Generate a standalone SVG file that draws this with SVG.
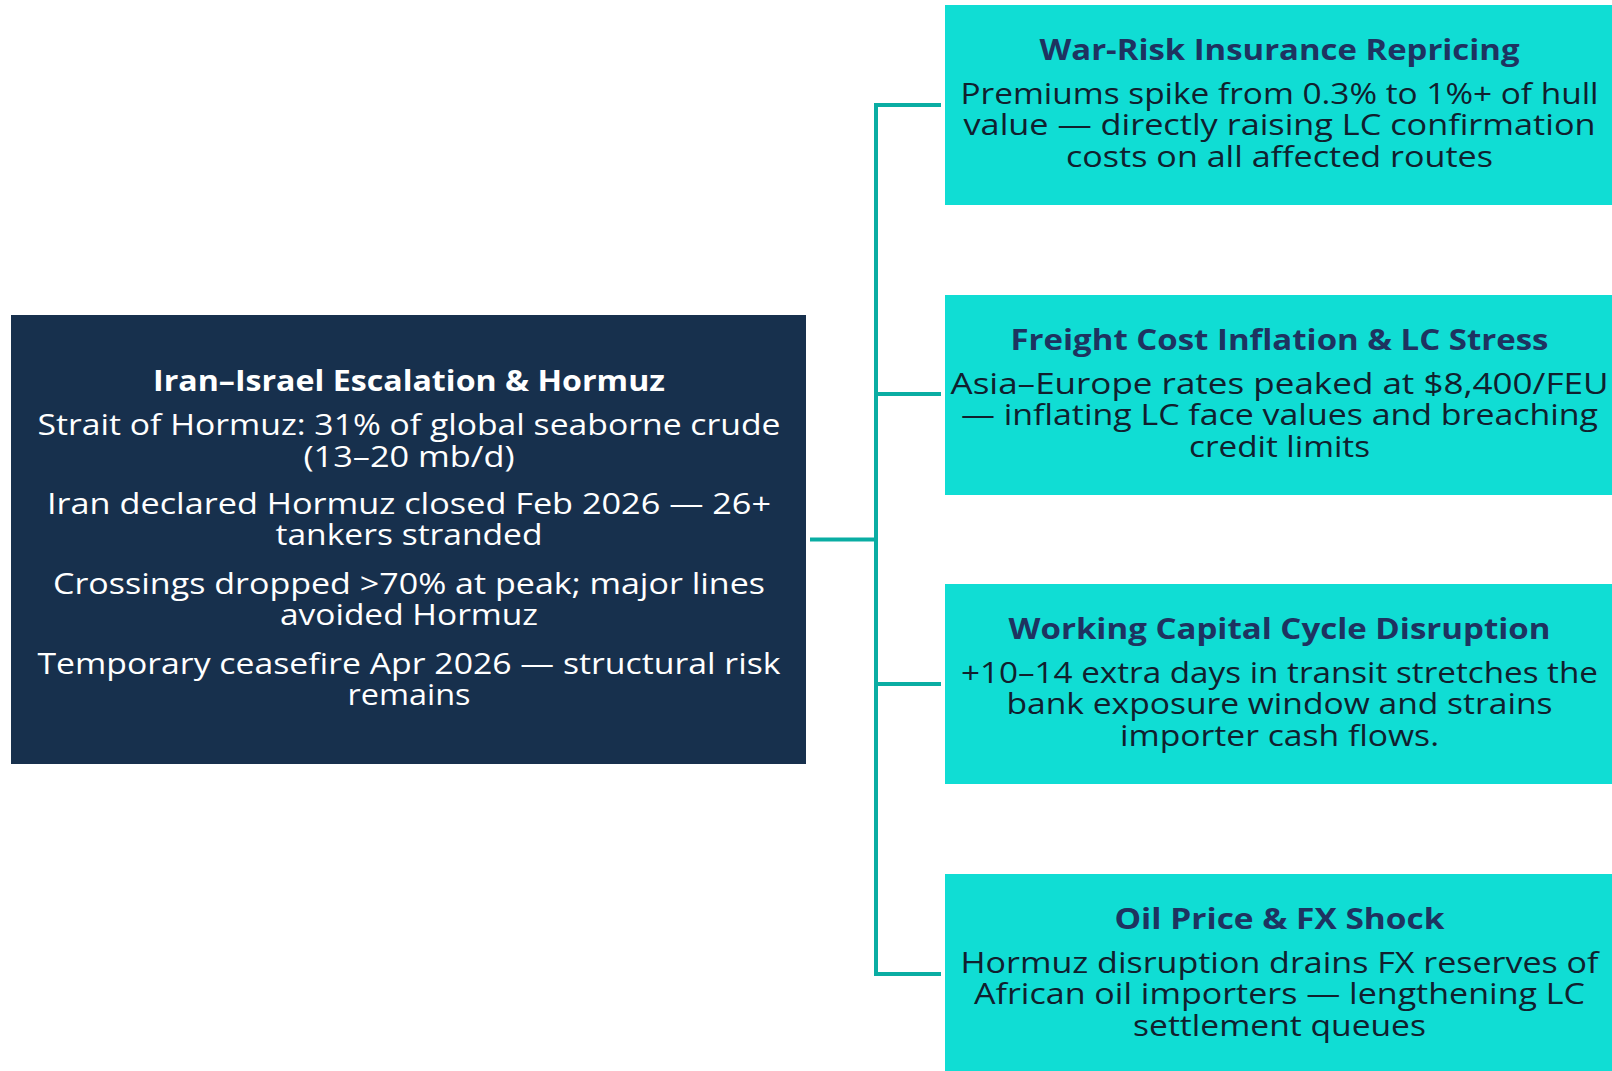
<svg xmlns="http://www.w3.org/2000/svg" width="1612" height="1071" viewBox="0 0 1612 1071">
  <style>
    .hub { fill: #17304d; }
    .leaf { fill: #10ddd4; }
    .wire { stroke: #0aada3; stroke-width: 4; fill: none; }
    text { font-family: "Open Sans", "Liberation Sans", sans-serif; text-anchor: middle; font-size: 29px; }
    .hub-title { fill: #ffffff; font-weight: 700; }
    .hub-body { fill: #ffffff; }
    .leaf-title { fill: #1e3360; font-weight: 700; }
    .leaf-body { fill: #10202e; }
  </style>

  <rect width="1612" height="1071" fill="#ffffff"/>

  <!-- connectors: hub stem, spine, and one branch per outcome -->
  <g id="connectors">
    <line class="wire" x1="810" y1="539.5" x2="876" y2="539.5"/>
    <line class="wire" x1="876" y1="103" x2="876" y2="976"/>
    <line class="wire" x1="876" y1="105" x2="941" y2="105"/>
    <line class="wire" x1="876" y1="394" x2="941" y2="394"/>
    <line class="wire" x1="876" y1="684" x2="941" y2="684"/>
    <line class="wire" x1="876" y1="974" x2="941" y2="974"/>
  </g>

  <!-- central driver -->
  <g id="hub">
    <rect class="hub" x="11" y="315" width="795" height="449"/>
    <text class="hub-title" x="409" y="390.5" textLength="512" lengthAdjust="spacingAndGlyphs">Iran–Israel Escalation &amp; Hormuz</text>
    <text class="hub-body" x="409" y="435" textLength="743" lengthAdjust="spacingAndGlyphs">Strait of Hormuz: 31% of global seaborne crude</text>
    <text class="hub-body" x="409" y="466.5" textLength="211" lengthAdjust="spacingAndGlyphs">(13–20 mb/d)</text>
    <text class="hub-body" x="409" y="513.5" textLength="724" lengthAdjust="spacingAndGlyphs">Iran declared Hormuz closed Feb 2026 — 26+</text>
    <text class="hub-body" x="409" y="545" textLength="267" lengthAdjust="spacingAndGlyphs">tankers stranded</text>
    <text class="hub-body" x="409" y="593.5" textLength="712" lengthAdjust="spacingAndGlyphs">Crossings dropped &gt;70% at peak; major lines</text>
    <text class="hub-body" x="409" y="625" textLength="258" lengthAdjust="spacingAndGlyphs">avoided Hormuz</text>
    <text class="hub-body" x="409" y="673.5" textLength="743" lengthAdjust="spacingAndGlyphs">Temporary ceasefire Apr 2026 — structural risk</text>
    <text class="hub-body" x="409" y="704.5" textLength="123" lengthAdjust="spacingAndGlyphs">remains</text>
  </g>

  <g id="war-risk">
    <rect class="leaf" x="945" y="5" width="669" height="200"/>
    <text class="leaf-title" x="1279.5" y="60" textLength="480" lengthAdjust="spacingAndGlyphs">War-Risk Insurance Repricing</text>
    <text class="leaf-body" x="1279.5" y="103.5" textLength="638" lengthAdjust="spacingAndGlyphs">Premiums spike from 0.3% to 1%+ of hull</text>
    <text class="leaf-body" x="1279.5" y="135" textLength="632" lengthAdjust="spacingAndGlyphs">value — directly raising LC confirmation</text>
    <text class="leaf-body" x="1279.5" y="166.5" textLength="427" lengthAdjust="spacingAndGlyphs">costs on all affected routes</text>
  </g>

  <g id="freight">
    <rect class="leaf" x="945" y="295" width="669" height="200"/>
    <text class="leaf-title" x="1279.5" y="350" textLength="538" lengthAdjust="spacingAndGlyphs">Freight Cost Inflation &amp; LC Stress</text>
    <text class="leaf-body" x="1279.5" y="393.5" textLength="658" lengthAdjust="spacingAndGlyphs">Asia–Europe rates peaked at $8,400/FEU</text>
    <text class="leaf-body" x="1279.5" y="425" textLength="637" lengthAdjust="spacingAndGlyphs">— inflating LC face values and breaching</text>
    <text class="leaf-body" x="1279.5" y="456.5" textLength="181" lengthAdjust="spacingAndGlyphs">credit limits</text>
  </g>

  <g id="working-capital">
    <rect class="leaf" x="945" y="584" width="669" height="200"/>
    <text class="leaf-title" x="1279.5" y="639" textLength="542" lengthAdjust="spacingAndGlyphs">Working Capital Cycle Disruption</text>
    <text class="leaf-body" x="1279.5" y="682.5" textLength="637" lengthAdjust="spacingAndGlyphs">+10–14 extra days in transit stretches the</text>
    <text class="leaf-body" x="1279.5" y="714" textLength="546" lengthAdjust="spacingAndGlyphs">bank exposure window and strains</text>
    <text class="leaf-body" x="1279.5" y="745.5" textLength="319" lengthAdjust="spacingAndGlyphs">importer cash flows.</text>
  </g>

  <g id="oil-fx">
    <rect class="leaf" x="945" y="874" width="669" height="200"/>
    <text class="leaf-title" x="1279.5" y="929" textLength="330" lengthAdjust="spacingAndGlyphs">Oil Price &amp; FX Shock</text>
    <text class="leaf-body" x="1279.5" y="972.5" textLength="638" lengthAdjust="spacingAndGlyphs">Hormuz disruption drains FX reserves of</text>
    <text class="leaf-body" x="1279.5" y="1004" textLength="611" lengthAdjust="spacingAndGlyphs">African oil importers — lengthening LC</text>
    <text class="leaf-body" x="1279.5" y="1035.5" textLength="293" lengthAdjust="spacingAndGlyphs">settlement queues</text>
  </g>
</svg>
